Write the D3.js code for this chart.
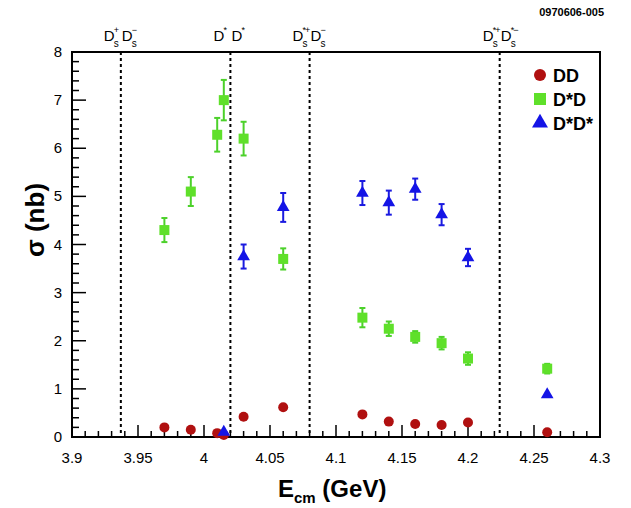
<!DOCTYPE html>
<html><head><meta charset="utf-8">
<script src="https://cdnjs.cloudflare.com/ajax/libs/d3/7.8.5/d3.min.js"></script>
<style>body{margin:0;background:#fff}text{font-family:"Liberation Sans",Arial,sans-serif}</style>
</head><body><svg id="c" width="631" height="508"></svg>
<script>
var ddE = [3.97, 3.99, 4.01, 4.015, 4.03, 4.06, 4.12, 4.14, 4.16, 4.18, 4.2, 4.26];
var ddV = [0.2, 0.15, 0.08, 0.04, 0.42, 0.62, 0.47, 0.32, 0.27, 0.25, 0.3, 0.1];
var dsdE = [3.97, 3.99, 4.01, 4.015, 4.03, 4.06, 4.12, 4.14, 4.16, 4.18, 4.2, 4.26];
var dsdV = [4.3, 5.1, 6.28, 7.0, 6.2, 3.7, 2.48, 2.25, 2.08, 1.95, 1.63, 1.42];
var dsdErr = [0.25, 0.3, 0.35, 0.42, 0.35, 0.22, 0.2, 0.15, 0.12, 0.13, 0.13, 0.1];
var dsdsE = [4.015, 4.03, 4.06, 4.12, 4.14, 4.16, 4.18, 4.2, 4.26];
var dsdsV = [0.1, 3.75, 4.77, 5.07, 4.87, 5.15, 4.62, 3.73, 0.88];
var dsdsErr = [0, 0.25, 0.3, 0.25, 0.25, 0.22, 0.22, 0.18, 0];
var thresholds = [3.937, 4.02, 4.08, 4.224];
var xTicks = [3.9, 3.95, 4, 4.05, 4.1, 4.15, 4.2, 4.25, 4.3];

var svg = d3.select("#c");
var L = 72, R = 600, T = 52, B = 437;
var x = d3.scaleLinear().domain([3.9, 4.3]).range([L, R]);
var y = d3.scaleLinear().domain([0, 8]).range([B, T]);

svg.append("rect").attr("x", L).attr("y", T).attr("width", R - L).attr("height", B - T)
  .attr("fill", "none").attr("stroke", "#000").attr("stroke-width", 2);

// ticks inside
d3.range(0, 41).forEach(function(i) {
  var v = 3.9 + i * 0.01, h = i % 5 == 0 ? 12 : 6;
  svg.append("line").attr("x1", x(v)).attr("x2", x(v)).attr("y1", B).attr("y2", B - h).attr("stroke", "#000").attr("stroke-width", 1.5);
});
d3.range(0, 41).forEach(function(i) {
  var v = i * 0.2, w = i % 5 == 0 ? 14 : 7;
  svg.append("line").attr("x1", L).attr("x2", L + w).attr("y1", y(v)).attr("y2", y(v)).attr("stroke", "#000").attr("stroke-width", 1.5);
});
xTicks.forEach(function(v) {
  svg.append("text").attr("x", x(v)).attr("y", 463).attr("text-anchor", "middle").attr("font-size", 15).text(+v.toFixed(2));
});
d3.range(0, 9).forEach(function(v) {
  svg.append("text").attr("x", L - 10).attr("y", y(v) + 5).attr("text-anchor", "end").attr("font-size", 15).text(v);
});

// axis titles
var xt = svg.append("text").attr("x", 278).attr("y", 497).attr("font-size", 24).attr("font-weight", "bold");
xt.append("tspan").text("E");
xt.append("tspan").attr("font-size", 15).attr("dy", 6).text("cm");
xt.append("tspan").attr("dy", -6).text(" (GeV)");
svg.append("text").attr("transform", "translate(44,220) rotate(-90)").attr("text-anchor", "middle").attr("font-size", 26).attr("font-weight", "bold").text("σ (nb)");
svg.append("text").attr("x", 604).attr("y", 16).attr("text-anchor", "end").attr("font-size", 11).attr("font-weight", "bold").text("0970606-005");

// threshold lines
thresholds.forEach(function(t) {
  svg.append("line").attr("x1", x(t)).attr("x2", x(t)).attr("y1", T).attr("y2", B)
    .attr("stroke", "#000").attr("stroke-width", 2).attr("stroke-dasharray", "3,3");
});
// [base, superscript, subscript] pairs
var labels = [[["D", "+", "s"], ["D", "−", "s"]], [["D", "*", ""], ["D", "*", ""]],
  [["D", "*+", "s"], ["D", "−", "s"]], [["D", "*+", "s"], ["D", "*−", "s"]]];
labels.forEach(function(l, i) {
  var g = svg.append("g").attr("transform", "translate(" + x(thresholds[i]) + ",0)");
  var ox = -17;
  l.forEach(function(p) {
    g.append("text").attr("x", ox).attr("y", 41).attr("font-size", 15).text(p[0]);
    g.append("text").attr("x", ox + 10).attr("y", 33).attr("font-size", 9).attr("letter-spacing", -1).text(p[1]);
    if (p[2]) g.append("text").attr("x", ox + 10).attr("y", 47).attr("font-size", 10).text(p[2]);
    ox += 18;
  });
});

function errBars(E, V, Err, col) {
  E.forEach(function(e, i) {
    if (!Err[i]) return;
    var g = svg.append("g").attr("stroke", col).attr("stroke-width", 2);
    g.append("line").attr("x1", x(e)).attr("x2", x(e)).attr("y1", y(V[i] - Err[i])).attr("y2", y(V[i] + Err[i]));
    [V[i] - Err[i], V[i] + Err[i]].forEach(function(v) {
      g.append("line").attr("x1", x(e) - 3).attr("x2", x(e) + 3).attr("y1", y(v)).attr("y2", y(v));
    });
  });
}
errBars(dsdE, dsdV, dsdErr, "#4cd12a");
errBars(dsdsE, dsdsV, dsdsErr, "#1a1ae0");

var red = "#b01010", green = "#5fe02a", blue = "#1414e6";
ddE.forEach(function(e, i) {
  svg.append("circle").attr("cx", x(e)).attr("cy", y(ddV[i])).attr("r", 5).attr("fill", red);
});
dsdE.forEach(function(e, i) {
  svg.append("rect").attr("x", x(e) - 5).attr("y", y(dsdV[i]) - 5).attr("width", 10).attr("height", 10).attr("fill", green);
});
var tri = d3.symbol().type(d3.symbolTriangle).size(70);
dsdsE.forEach(function(e, i) {
  svg.append("path").attr("d", tri).attr("transform", "translate(" + x(e) + "," + y(dsdsV[i]) + ")").attr("fill", blue);
});

// legend
var lg = [["DD", red, "c"], ["D*D", green, "s"], ["D*D*", blue, "t"]];
lg.forEach(function(d, i) {
  var cy = 75 + i * 24, cx = 540;
  if (d[2] == "c") svg.append("circle").attr("cx", cx).attr("cy", cy).attr("r", 6).attr("fill", d[1]);
  if (d[2] == "s") svg.append("rect").attr("x", cx - 6).attr("y", cy - 6).attr("width", 12).attr("height", 12).attr("fill", d[1]);
  if (d[2] == "t") svg.append("path").attr("d", d3.symbol().type(d3.symbolTriangle).size(110)).attr("transform", "translate(" + cx + "," + cy + ")").attr("fill", d[1]);
  svg.append("text").attr("x", 553).attr("y", cy + 7).attr("font-size", 18).attr("font-weight", "bold").text(d[0]);
});
</script></body></html>
